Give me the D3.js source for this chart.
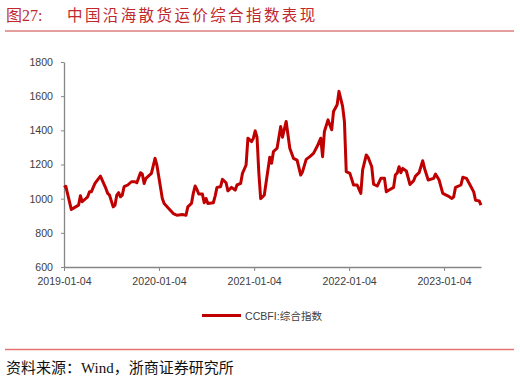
<!DOCTYPE html>
<html>
<head>
<meta charset="utf-8">
<script src="https://cdn.jsdelivr.net/npm/d3@7"></script>
<style>
  body { margin: 0; background: #fff; }
  svg { display: block; }
</style>
</head>
<body>
<svg id="chart" width="520" height="381"></svg>
<script>
// Weekly series, week number counted from the first Friday 2019-01-04
var startDate = new Date(2019, 0, 4);
var weekIdx = [0, 1, 4, 5, 8, 9, 10, 12, 13, 14, 15, 17, 20, 23, 24, 25, 27, 28, 29, 30,
  31, 32, 33, 35, 37, 39, 40, 42, 43, 44, 45, 48, 50, 51, 54, 55, 58, 60, 62, 65,
  67, 68, 70, 71, 72, 73, 74, 76, 77, 78, 79, 82, 83, 84, 86, 87, 89, 90, 92, 94,
  95, 97, 98, 100, 101, 103, 104, 105, 106, 107, 108, 109, 110, 113, 114, 115, 117, 119, 120, 122,
  124, 126, 128, 130, 131, 133, 135, 137, 139, 141, 142, 143, 145, 147, 148, 150, 151, 153, 154, 155,
  157, 159, 161, 163, 164, 166, 167, 169, 170, 172, 174, 176, 177, 179, 181, 182, 183, 184, 185, 186,
  188, 190, 192, 193, 195, 197, 198, 200, 203, 204, 206, 208, 211, 213, 214, 215, 218, 219, 221, 223,
  225, 226, 228, 229];
var ccbfi = [1065, 1072, 937, 943, 962, 1017, 982, 1001, 1011, 1040, 1040, 1089, 1132, 1060, 1031, 1021, 952, 962, 1021, 1035,
  1011, 1021, 1070, 1080, 1099, 1099, 1093, 1152, 1144, 1089, 1119, 1148, 1236, 1197, 1001, 972, 937, 913, 903, 907,
  903, 952, 972, 1031, 1074, 1054, 1027, 1027, 976, 1001, 972, 976, 1015, 1066, 1070, 1113, 1093, 1046, 1066, 1050,
  1080, 1089, 1148, 1197, 1354, 1334, 1354, 1397, 1360, 1150, 1000, 1010, 1021, 1242, 1207, 1275, 1295, 1422, 1360, 1452,
  1295, 1236, 1226, 1138, 1158, 1230, 1246, 1265, 1305, 1354, 1246, 1393, 1461, 1403, 1510, 1550, 1628, 1540, 1452, 1158,
  1148, 1080, 1080, 1031, 1168, 1256, 1242, 1187, 1085, 1074, 1119, 1119, 1040, 1054, 1066, 1140, 1150, 1187, 1152, 1177,
  1162, 1083, 1105, 1132, 1152, 1222, 1177, 1109, 1119, 1144, 1109, 1031, 1015, 1001, 1011, 1066, 1080, 1125, 1119, 1080,
  1040, 991, 987, 962];
var yTicks = [600, 800, 1000, 1200, 1400, 1600, 1800];
var xTickLabels = ["2019-01-04", "2020-01-04", "2021-01-04", "2022-01-04", "2023-01-04"];
var titleNo = "图27:";
var titleText = "中国沿海散货运价综合指数表现";
var seriesName = "CCBFI:综合指数";
var sourceText = "资料来源：Wind，浙商证券研究所";

var svg = d3.select("#chart");
var parseDay = d3.timeParse("%Y-%m-%d");
var fmtDay = d3.timeFormat("%Y-%m-%d");

var data = weekIdx.map(function(w, i) {
  return { date: d3.timeWeek.offset(startDate, w), value: ccbfi[i] };
});

// plot area edges
var plotLeft = 64, plotRight = 481, plotTop = 62, plotBottom = 267;

var x = d3.scaleTime()
  .domain([startDate, data[data.length - 1].date])
  .range([plotLeft, plotRight]);
var y = d3.scaleLinear().domain([600, 1800]).range([plotBottom, plotTop]);

var axisFont = "'Liberation Sans', Arial, sans-serif";

// title
svg.append("text")
  .attr("x", 6).attr("y", 21)
  .attr("fill", "#c0282e")
  .style("font-family", "'Liberation Serif', 'Noto Sans CJK SC', serif")
  .style("font-size", "16px")
  .text(titleNo);
svg.append("text")
  .attr("x", 67).attr("y", 21)
  .attr("fill", "#c0282e")
  .style("font-family", "'Noto Sans CJK SC', sans-serif")
  .style("font-size", "15.5px")
  .style("letter-spacing", "2.4px")
  .text(titleText);
svg.append("line")
  .attr("x1", 5).attr("x2", 514).attr("y1", 31).attr("y2", 31)
  .attr("stroke", "#c83c3c").attr("stroke-width", 1);

// y axis
var yAxis = svg.append("g")
  .attr("transform", "translate(" + plotLeft + ",0)")
  .call(d3.axisLeft(y).tickValues(yTicks).tickFormat(d3.format("d"))
    .tickSize(3).tickSizeOuter(0).tickPadding(8));
// x axis
var xAxis = svg.append("g")
  .attr("transform", "translate(0," + plotBottom + ")")
  .call(d3.axisBottom(x)
    .tickValues(xTickLabels.map(parseDay))
    .tickFormat(fmtDay)
    .tickSize(4).tickSizeOuter(0).tickPadding(6));

[yAxis, xAxis].forEach(function(g) {
  g.select(".domain").attr("stroke", "#868686").attr("stroke-width", 1.3);
  g.selectAll(".tick line").attr("stroke", "#868686");
  g.selectAll(".tick text")
    .attr("fill", "#404040")
    .style("font-family", axisFont)
    .style("font-size", "10.6px");
});

// series line
var line = d3.line()
  .x(function(d) { return x(d.date); })
  .y(function(d) { return y(d.value); });

svg.append("path")
  .datum(data)
  .attr("d", line)
  .attr("fill", "none")
  .attr("stroke", "#c00000")
  .attr("stroke-width", 3)
  .attr("stroke-linejoin", "round");

// legend
svg.append("line")
  .attr("x1", 202).attr("x2", 241).attr("y1", 315.5).attr("y2", 315.5)
  .attr("stroke", "#c00000").attr("stroke-width", 3);
svg.append("text")
  .attr("x", 245).attr("y", 319.5)
  .attr("fill", "#404040")
  .style("font-family", axisFont + ", 'Noto Sans CJK SC'")
  .style("font-size", "10.6px")
  .text(seriesName);

// source
svg.append("line")
  .attr("x1", 5).attr("x2", 514).attr("y1", 349.5).attr("y2", 349.5)
  .attr("stroke", "#e57373").attr("stroke-width", 1.5);
svg.append("text")
  .attr("x", 6).attr("y", 373)
  .attr("fill", "#111")
  .style("font-family", "'Liberation Serif', 'Noto Sans CJK SC', serif")
  .style("font-size", "15px")
  .text(sourceText);
</script>
</body>
</html>
